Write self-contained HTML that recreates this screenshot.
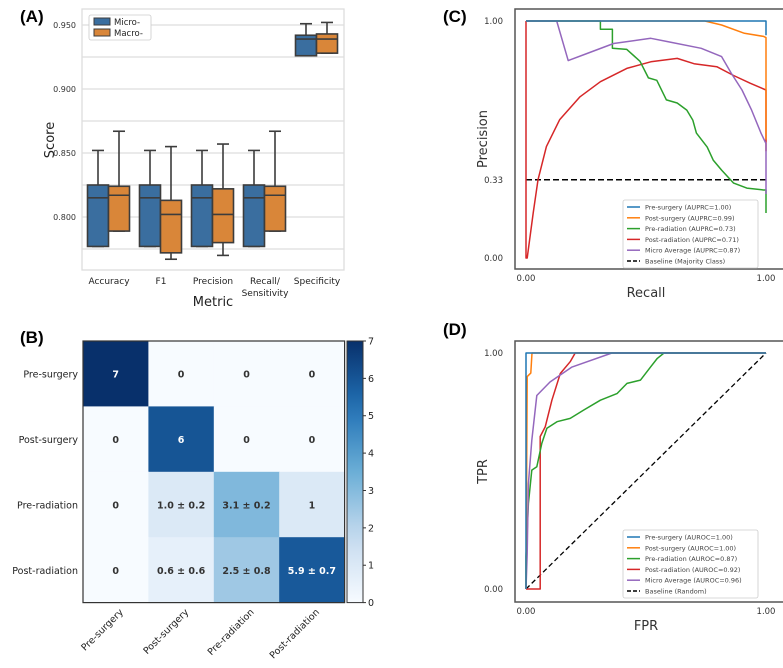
<!DOCTYPE html>
<html><head><meta charset="utf-8"><style>
body{margin:0;background:#fff;}
svg{display:block;font-family:"DejaVu Sans","Liberation Sans",sans-serif;}
</style></head><body>
<svg id="s" width="783" height="668" viewBox="0 0 783 668" xmlns="http://www.w3.org/2000/svg">
<text x="20" y="22" font-size="17" font-weight="bold" font-family="Liberation Sans, sans-serif">(A)</text>
<text x="20" y="343" font-size="17" font-weight="bold" font-family="Liberation Sans, sans-serif">(B)</text>
<text x="443" y="22" font-size="17" font-weight="bold" font-family="Liberation Sans, sans-serif">(C)</text>
<text x="443" y="335" font-size="17" font-weight="bold" font-family="Liberation Sans, sans-serif">(D)</text>
<g id="A"></g><g id="B"></g><g id="C"></g><g id="D"></g>
</svg>
<script>
// Panel A data
const metrics=["Accuracy","F1","Precision","Recall/|Sensitivity","Specificity"];
const microQ1=[0.777,0.777,0.777,0.777,0.926];
const microMed=[0.815,0.815,0.815,0.815,0.939];
const microQ3=[0.825,0.825,0.825,0.825,0.942];
const microLo=[0.777,0.777,0.777,0.777,0.926];
const microHi=[0.852,0.852,0.852,0.852,0.951];
const macroQ1=[0.789,0.772,0.780,0.789,0.928];
const macroMed=[0.817,0.802,0.802,0.817,0.939];
const macroQ3=[0.824,0.813,0.822,0.824,0.943];
const macroLo=[0.789,0.767,0.770,0.789,0.928];
const macroHi=[0.867,0.855,0.857,0.867,0.952];
const aTicks=[0.800,0.850,0.900,0.950];
const aGrid=[0.775,0.800,0.825,0.850,0.875,0.900,0.925,0.950];
// Panel B data
const cmLabels=["Pre-surgery","Post-surgery","Pre-radiation","Post-radiation"];
const cmValues=[[7,0,0,0],[0,6,0,0],[0,1.0,3.1,1],[0,0.6,2.5,5.9]];
const cmText=[["7","0","0","0"],["0","6","0","0"],["0","1.0 ± 0.2","3.1 ± 0.2","1"],["0","0.6 ± 0.6","2.5 ± 0.8","5.9 ± 0.7"]];
const cbTicks=[0,1,2,3,4,5,6,7];
// Panel C data
const prNames=["Pre-surgery (AUPRC=1.00)","Post-surgery (AUPRC=0.99)","Pre-radiation (AUPRC=0.73)","Post-radiation (AUPRC=0.71)","Micro Average (AUPRC=0.87)"];
const preSurgR=[0,1,1];const preSurgP=[1,1,0.94];
const postSurgR=[0,0.745,0.815,0.91,0.99,1,1];const postSurgP=[1,1,0.983,0.948,0.935,0.93,0.5];
const preRadR=[0,0.31,0.31,0.36,0.36,0.42,0.475,0.51,0.545,0.585,0.63,0.67,0.695,0.71,0.755,0.78,0.815,0.865,0.92,0.99,1,1];
const preRadP=[1,1,0.965,0.965,0.885,0.88,0.83,0.76,0.75,0.667,0.654,0.624,0.582,0.527,0.468,0.413,0.371,0.316,0.295,0.287,0.287,0.19];
const postRadR=[0,0,0.005,0.03,0.05,0.085,0.14,0.225,0.31,0.42,0.52,0.63,0.70,0.795,0.865,0.935,1,1];
const postRadP=[1,0,0,0.19,0.33,0.47,0.583,0.68,0.744,0.80,0.828,0.842,0.82,0.807,0.77,0.737,0.709,0.45];
const microR=[0,0.128,0.176,0.254,0.365,0.52,0.59,0.73,0.815,0.855,0.9,0.94,0.98,1,1];
const microP=[1,1,0.833,0.863,0.905,0.927,0.913,0.885,0.85,0.78,0.709,0.624,0.525,0.483,0.27];
const baselinePR=0.33;
// Panel D data
const rocNames=["Pre-surgery (AUROC=1.00)","Post-surgery (AUROC=1.00)","Pre-radiation (AUROC=0.87)","Post-radiation (AUROC=0.92)","Micro Average (AUROC=0.96)"];
const rPreSurgF=[0,0,0,0.01,1];const rPreSurgT=[0,0.75,1,1,1];
const rPostSurgF=[0,0.005,0.02,0.025,1];const rPostSurgT=[0,0.9,0.915,1,1];
const rPreRadF=[0,0,0.01,0.024,0.045,0.066,0.087,0.129,0.184,0.24,0.31,0.379,0.421,0.477,0.519,0.547,0.575,1];
const rPreRadT=[0,0.137,0.362,0.504,0.518,0.617,0.681,0.709,0.723,0.758,0.8,0.828,0.871,0.885,0.941,0.977,1,1];
const rPostRadF=[0,0.059,0.059,0.08,0.108,0.143,0.184,0.205,1];
const rPostRadT=[0,0,0.646,0.687,0.8,0.913,0.963,1,1];
const rMicroF=[0,0.005,0.01,0.024,0.045,0.1,0.19,0.358,1];
const rMicroT=[0,0.15,0.446,0.63,0.82,0.877,0.94,1,1];

const NS="http://www.w3.org/2000/svg";
function mk(parent,tag,attrs,txt){const e=document.createElementNS(NS,tag);for(const k in attrs)e.setAttribute(k,attrs[k]);if(txt!==undefined)e.textContent=txt;parent.appendChild(e);return e;}
const colors=["#1f77b4","#ff7f0e","#2ca02c","#d62728","#9467bd"];

// ---- Panel A ----
(function(){
const g=document.getElementById('A');
const L=82,R=344,T=9,B=270;
const ya=v=>25+(0.95-v)*1280;
const xa=i=>109+i*52;
aGrid.forEach(v=>{const l=mk(g,'line',{x1:L,x2:R,y1:ya(v),y2:ya(v),stroke:'#ddd','stroke-width':1.3});
});
const fr=mk(g,'rect',{x:L,y:T,width:R-L,height:B-T,fill:'none',stroke:'#ddd','stroke-width':1.3});

aTicks.forEach(v=>{const t=mk(g,'text',{x:L-6,y:ya(v)+3,'font-size':8,'text-anchor':'end',fill:'#333'},v.toFixed(3));
});
function box(cx,q1,md,q3,lo,hi,col,name){
 const w=21;const bg=mk(g,'g',{});
 
 mk(bg,'line',{x1:cx,x2:cx,y1:ya(q3),y2:ya(hi),stroke:'#3c3c3c','stroke-width':1.6});
 mk(bg,'line',{x1:cx-6,x2:cx+6,y1:ya(hi),y2:ya(hi),stroke:'#3c3c3c','stroke-width':1.6});
 mk(bg,'line',{x1:cx,x2:cx,y1:ya(q1),y2:ya(lo),stroke:'#3c3c3c','stroke-width':1.6});
 mk(bg,'line',{x1:cx-6,x2:cx+6,y1:ya(lo),y2:ya(lo),stroke:'#3c3c3c','stroke-width':1.6});
 mk(bg,'rect',{x:cx-w/2,y:ya(q3),width:w,height:ya(q1)-ya(q3),fill:col,stroke:'#3c3c3c','stroke-width':1.6});
 mk(bg,'line',{x1:cx-w/2,x2:cx+w/2,y1:ya(md),y2:ya(md),stroke:'#3c3c3c','stroke-width':1.6});
}
metrics.forEach((m,i)=>{
 box(xa(i)-11,microQ1[i],microMed[i],microQ3[i],microLo[i],microHi[i],'#3a6e9f','micro-box-'+i);
 box(xa(i)+10,macroQ1[i],macroMed[i],macroQ3[i],macroLo[i],macroHi[i],'#d98639','macro-box-'+i);
 const parts=m.split('|');
 parts.forEach((p,j)=>{const t=mk(g,'text',{x:xa(i),y:284+j*12,'font-size':9,'text-anchor':'middle',fill:'#222'},p);
 });
});
const yt=mk(g,'text',{x:0,y:0,'font-size':13,'text-anchor':'middle',fill:'#222',transform:'translate(54,140) rotate(-90)'},'Score');

const xt=mk(g,'text',{x:213,y:306,'font-size':13,'text-anchor':'middle',fill:'#222'},'Metric');

const lg=mk(g,'g',{});
mk(lg,'rect',{x:89,y:15,width:62,height:25,fill:'#fff',stroke:'#ccc','stroke-width':0.8,rx:2});
mk(lg,'rect',{x:94,y:18,width:16,height:7,fill:'#3a6e9f',stroke:'#3c3c3c','stroke-width':1});
mk(lg,'rect',{x:94,y:29,width:16,height:7,fill:'#d98639',stroke:'#3c3c3c','stroke-width':1});
mk(lg,'text',{x:114,y:25,'font-size':8.5,fill:'#222'},'Micro-');
mk(lg,'text',{x:114,y:36,'font-size':8.5,fill:'#222'},'Macro-');
})();

// ---- Panel B ----
(function(){
const g=document.getElementById('B');
const L=83,T=341,cs=65.4;
function cmap(v){const t=v/7;const c0=[247,251,255],c1=[198,219,239],c2=[107,174,214],c3=[33,113,181],c4=[8,48,107];
 const st=[c0,c1,c2,c3,c4];const p=t*4;const i=Math.min(3,Math.floor(p));const f=p-i;
 const a=st[i],b=st[i+1];return 'rgb('+a.map((x,k)=>Math.round(x+(b[k]-x)*f)).join(',')+')';}
cmValues.forEach((row,r)=>row.forEach((v,c)=>{
 const rc=mk(g,'rect',{x:L+c*cs,y:T+r*cs,width:cs+0.5,height:cs+0.5,fill:cmap(v)});
 
 const t=mk(g,'text',{x:L+c*cs+cs/2,y:T+r*cs+cs/2+4,'font-size':9.5,'text-anchor':'middle','font-weight':'bold',fill:v>3.5?'#fff':'#333'},cmText[r][c]);
 
}));
mk(g,'rect',{x:L,y:T,width:cs*4,height:cs*4,fill:'none',stroke:'#333','stroke-width':1.2});
cmLabels.forEach((l,i)=>{
 const t=mk(g,'text',{x:L-5,y:T+i*cs+cs/2+4,'font-size':9.5,'text-anchor':'end',fill:'#222'},l);
 
 const cx=L+i*cs+cs/2+8;
 const u=mk(g,'text',{x:0,y:0,'font-size':9.5,'text-anchor':'end',fill:'#222',transform:'translate('+cx+','+(T+cs*4+10)+') rotate(-45)'},l);
 
});
const cbL=347,cbW=16,H=cs*4;
const defs=mk(g,'defs',{});const lgd=mk(defs,'linearGradient',{id:'cbg',x1:0,y1:1,x2:0,y2:0});
for(let k=0;k<=10;k++)mk(lgd,'stop',{offset:k/10,'stop-color':cmap(k*0.7)});
const cb=mk(g,'rect',{x:cbL,y:T,width:cbW,height:H,fill:'url(#cbg)',stroke:'#333','stroke-width':1});

cbTicks.forEach(v=>{const y=T+H-v/7*H;mk(g,'line',{x1:cbL+cbW,x2:cbL+cbW+3,y1:y,y2:y,stroke:'#333'});
 const t=mk(g,'text',{x:cbL+cbW+5,y:y+3.5,'font-size':9.5,fill:'#222'},String(v));
 });
})();

// ---- line panel helper ----
function linePanel(gid,top,bottom,y0,y1,xs,ys,names,baseline,xTitle,yTitle,yTickVals,legTop,baseName){
const g=document.getElementById(gid);
const L=515,R=783;
const x=v=>526+v*240;const y=v=>y0-(y0-y1)*v;
const fr=mk(g,'path',{d:'M'+R+' '+top+' H'+L+' V'+bottom+' H'+R,fill:'none',stroke:'#555','stroke-width':1.5});

if(baseline==='diag'){const b=mk(g,'line',{x1:x(0),y1:y(0),x2:x(1),y2:y(1),stroke:'#000','stroke-width':1.3,'stroke-dasharray':'5,3'});
 }
else{const b=mk(g,'line',{x1:x(0),y1:y(baseline),x2:x(1),y2:y(baseline),stroke:'#000','stroke-width':1.5,'stroke-dasharray':'6,3'});
 }
[3,2,4,1,0].forEach(i=>{
 const d=xs[i].map((v,k)=>(k?'L':'M')+x(v).toFixed(1)+' '+y(ys[i][k]).toFixed(1)).join(' ');
 const p=mk(g,'path',{d:d,fill:'none',stroke:colors[i],'stroke-width':1.5,'stroke-linejoin':'round'});
 
});
yTickVals.forEach(v=>{const t=mk(g,'text',{x:503,y:y(v)+3,'font-size':8.5,'text-anchor':'end',fill:'#333'},v.toFixed(2));
 });
[0,1].forEach(v=>{const t=mk(g,'text',{x:x(v),y:bottom+12,'font-size':8.5,'text-anchor':'middle',fill:'#333'},v.toFixed(2));
 });
const xt=mk(g,'text',{x:646,y:bottom+28,'font-size':13,'text-anchor':'middle',fill:'#333'},xTitle);

const yt=mk(g,'text',{x:0,y:0,'font-size':13,'text-anchor':'middle',fill:'#333',transform:'translate(487,'+((top+bottom)/2)+') rotate(-90)'},yTitle);

const lg=mk(g,'g',{});
mk(lg,'rect',{x:623,y:legTop,width:135,height:68,fill:'#fff',stroke:'#ccc','stroke-width':0.8,rx:2});
names.concat([baseName]).forEach((n,i)=>{const yy=legTop+7+i*10.8;
 mk(lg,'line',{x1:627,x2:640,y1:yy,y2:yy,stroke:i<5?colors[i]:'#000','stroke-width':1.5,'stroke-dasharray':i<5?'none':'4,2'});
 mk(lg,'text',{x:645,y:yy+2.5,'font-size':6.5,fill:'#444'},n);});
}
linePanel('C',9,269,258,21,[preSurgR,postSurgR,preRadR,postRadR,microR],[preSurgP,postSurgP,preRadP,postRadP,microP],prNames,baselinePR,'Recall','Precision',[0,0.33,1],200,'Baseline (Majority Class)');
linePanel('D',341,602,589,353,[rPreSurgF,rPostSurgF,rPreRadF,rPostRadF,rMicroF],[rPreSurgT,rPostSurgT,rPreRadT,rPostRadT,rMicroT],rocNames,'diag','FPR','TPR',[0,1],530,'Baseline (Random)');
</script>
</body></html>
